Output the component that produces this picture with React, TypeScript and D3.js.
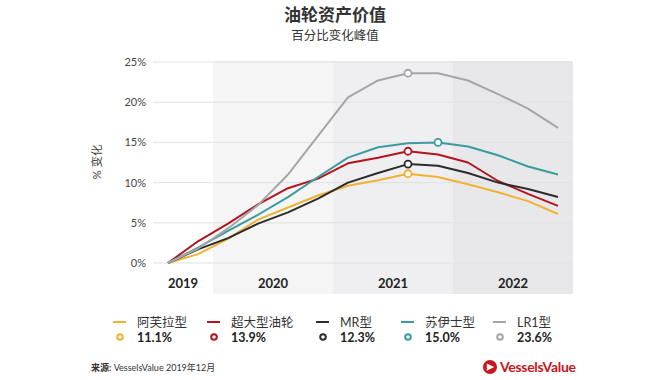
import React, { useEffect } from "react";
import * as d3 from "d3";

const quarterIndex = [0, 1, 2, 3, 4, 5, 6, 7, 8, 9, 10, 11, 12, 13];
const aframaxValues = [0, 1.1, 3.0, 5.4, 6.9, 8.4, 9.6, 10.3, 11.1, 10.7, 9.8, 8.8, 7.7, 6.1];
const vlccValues = [0, 2.7, 4.9, 7.3, 9.3, 10.5, 12.4, 13.1, 13.9, 13.5, 12.5, 10.2, 8.6, 7.1];
const mrValues = [0, 1.7, 3.1, 4.9, 6.3, 8.0, 10.0, 11.2, 12.3, 12.1, 11.2, 10.0, 9.2, 8.2];
const suezmaxValues = [0, 1.9, 4.0, 6.0, 8.2, 10.7, 13.1, 14.4, 14.9, 15.0, 14.5, 13.4, 12.0, 11.0];
const lr1Values = [0, 1.8, 4.3, 7.2, 11.0, 15.8, 20.6, 22.7, 23.6, 23.6, 22.7, 21.0, 19.2, 16.8];

const seriesNames = ["阿芙拉型", "超大型油轮", "MR型", "苏伊士型", "LR1型"];
const seriesColors = ["#f0b232", "#b3141d", "#2c2c2c", "#3a9c9e", "#a6a6a6"];
const seriesData = [aframaxValues, vlccValues, mrValues, suezmaxValues, lr1Values];

const yTicks = [0, 5, 10, 15, 20, 25];
const yearLabels = ["2019", "2020", "2021", "2022"];
const yearStarts = [-2.5, 1.5, 5.5, 9.5];
const bandFills = ["#ffffff", "#f5f5f6", "#efeff1", "#e8e8eb"];

const legendX = [113, 207, 316, 401, 493];

const FONT = "Lato, 'Noto Sans CJK SC', sans-serif";

export default function App() {
  useEffect(() => {
    document.body.style.margin = "0";
  }, []);

  const x = d3.scaleLinear().domain([0, 13]).range([168, 558]);
  const y = d3.scaleLinear().domain([0, 25]).range([263, 62]);
  const xMin = -0.5;
  const xMax = 13.5;
  const line = d3
    .line<number>()
    .x((_, i) => x(quarterIndex[i]))
    .y((d) => y(d));

  return (
    <svg width={670} height={380} style={{ display: "block", background: "#fff" }} fontFamily={FONT}>
      {/* titles */}
      <text x={335} y={21} textAnchor="middle" fontSize={17} fontWeight={700} fill="#333">
        油轮资产价值
      </text>
      <text x={335} y={40} textAnchor="middle" fontSize={12.5} fill="#333">
        百分比变化峰值
      </text>

      {/* year bands */}
      {yearLabels.map((yl, i) => {
        const s = Math.max(yearStarts[i], xMin);
        const e = Math.min(yearStarts[i] + 4, xMax);
        return (
          <g key={yl}>
            <rect x={x(s)} y={61} width={x(e) - x(s)} height={233} fill={bandFills[i]} />
            <text
              x={(x(s) + x(e)) / 2}
              y={288}
              textAnchor="middle"
              fontSize={13}
              fontWeight={700}
              fill="#222"
            >
              {yl}
            </text>
          </g>
        );
      })}

      {/* grid + y ticks */}
      {yTicks.map((t) => (
        <g key={t}>
          <line x1={x(xMin)} x2={x(xMax)} y1={y(t)} y2={y(t)} stroke="#e1e1e3" strokeWidth={1} />
          <text x={146} y={y(t) + 4} textAnchor="end" fontSize={11} fill="#444">
            {t}%
          </text>
        </g>
      ))}
      <text
        transform={`translate(101,162) rotate(-90)`}
        textAnchor="middle"
        fontSize={11.5}
        fill="#444"
      >
        % 变化
      </text>

      {/* lines */}
      {seriesData.map((vals, i) => (
        <path key={i} d={line(vals) || ""} fill="none" stroke={seriesColors[i]} strokeWidth={2} strokeLinejoin="round" />
      ))}

      {/* peak markers */}
      {seriesData.map((vals, i) => {
        const mi = d3.maxIndex(vals);
        return (
          <circle
            key={i}
            cx={x(quarterIndex[mi])}
            cy={y(vals[mi])}
            r={3.5}
            fill="#fff"
            stroke={seriesColors[i]}
            strokeWidth={1.8}
          />
        );
      })}

      {/* legend */}
      {seriesNames.map((name, i) => {
        const lx = legendX[i];
        const peak = d3.max(seriesData[i]) as number;
        return (
          <g key={name}>
            <line x1={lx} x2={lx + 13} y1={322} y2={322} stroke={seriesColors[i]} strokeWidth={2} />
            <text x={lx + 24} y={326.5} fontSize={12.5} fill="#333">
              {name}
            </text>
            <circle cx={lx + 7} cy={337} r={2.8} fill="#fff" stroke={seriesColors[i]} strokeWidth={2} />
            <text x={lx + 24} y={342} fontSize={12.5} fontWeight={700} fill="#222">
              {peak.toFixed(1)}%
            </text>
          </g>
        );
      })}

      {/* footer */}
      <text x={91} y={371} fontSize={9} fill="#333">
        <tspan fontWeight={700}>来源:</tspan> VesselsValue 2019年12月
      </text>
      <g transform="translate(490,367)">
        <circle r={7} fill="#c8161d" />
        <path d="M-3.2,-3.5 L4.2,0 L-3.2,3.8 Z" fill="#fff" />
      </g>
      <text x={500} y={372} fontSize={14} fontWeight={700} fill="#c8161d" letterSpacing={-0.3}>
        VesselsValue
      </text>
    </svg>
  );
}
